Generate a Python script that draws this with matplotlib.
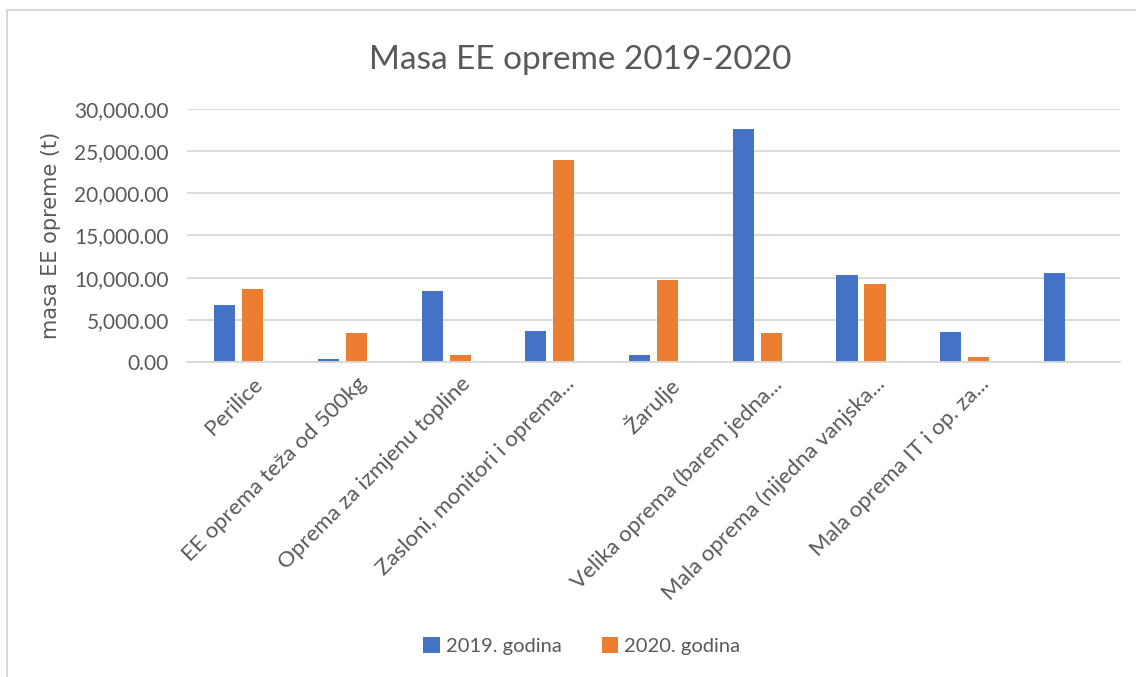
import matplotlib.pyplot as plt
import matplotlib.transforms as mtransforms
import numpy as np
from matplotlib.font_manager import FontProperties
from matplotlib.patches import Rectangle
from matplotlib.ticker import FuncFormatter

categories = ["Perilice", "EE oprema teža od 500kg", "Oprema za izmjenu topline",
              "Zasloni, monitori i oprema...", "Žarulje", "Velika oprema (barem jedna...",
              "Mala oprema (nijedna vanjska...", "Mala oprema IT i op. za...", ""]
y2019 = [6700, 320, 8400, 3650, 800, 27600, 10300, 3550, 10550]
y2020 = [8600, 3400, 800, 23900, 9700, 3400, 9250, 580, 0]
series_names = ["2019. godina", "2020. godina"]

BLUE = '#4472c4'
ORANGE = '#ed7d31'
GREY = '#595959'

plt.rcParams['font.family'] = ['Lato', 'DejaVu Sans']

fig = plt.figure(figsize=(11.36, 6.77), dpi=100)
ax = fig.add_axes([0.1646, 0.4653, 0.8214, 0.3737])

# chart border
fig.patches.append(Rectangle((7 / 1136, -0.01), 1.1, 1 - 10 / 677 + 0.01, transform=fig.transFigure,
                             facecolor='none', edgecolor='#d9d9d9', linewidth=1.5))

x = np.arange(len(categories))
w = 0.205
off = 0.135
b1 = ax.bar(x - off, y2019, w, color=BLUE, label=series_names[0])
b2 = ax.bar(x + off, y2020, w, color=ORANGE, label=series_names[1])

ax.set_xlim(-0.5, len(categories) - 0.5)
ax.set_ylim(0, 30000)
ax.set_yticks(np.arange(0, 30001, 5000))
ax.yaxis.set_major_formatter(FuncFormatter(lambda v, p: f"{v:,.2f}"))
ax.grid(axis='y', color='#d9d9d9', linewidth=1.3)
ax.set_axisbelow(True)
for s in ['top', 'right', 'left']:
    ax.spines[s].set_visible(False)
ax.spines['bottom'].set_color('#d9d9d9')
ax.spines['bottom'].set_linewidth(1.3)
ax.tick_params(axis='both', length=0, labelcolor=GREY)
ax.tick_params(axis='y', pad=13, labelsize=15)

ax.set_xticks(x)
ax.set_xticklabels(categories, rotation=45, ha='right', va='top', rotation_mode='anchor', fontsize=16)
shift = mtransforms.ScaledTranslation(14 / 100, -7 / 100, fig.dpi_scale_trans)
for lbl in ax.get_xticklabels():
    lbl.set_transform(lbl.get_transform() + shift)

ax.set_ylabel("masa EE opreme (t)", color=GREY,
              fontproperties=FontProperties(family='DejaVu Sans', size=15))
ax.yaxis.set_label_coords(-0.135, 0.5)

fig.text(0.511, 1 - 60 / 677, "Masa EE opreme 2019-2020", fontsize=24, color=GREY,
         ha='center', va='center')

fig.legend(handles=[b1, b2], labels=series_names, loc='center', bbox_to_anchor=(0.512, 1 - 646 / 677),
           ncol=2, frameon=False, fontsize=14.5, labelcolor=GREY, handlelength=0.8, handleheight=0.8,
           handletextpad=0.3, columnspacing=2.0)

plt.savefig('out.png', format='png', dpi=100)
